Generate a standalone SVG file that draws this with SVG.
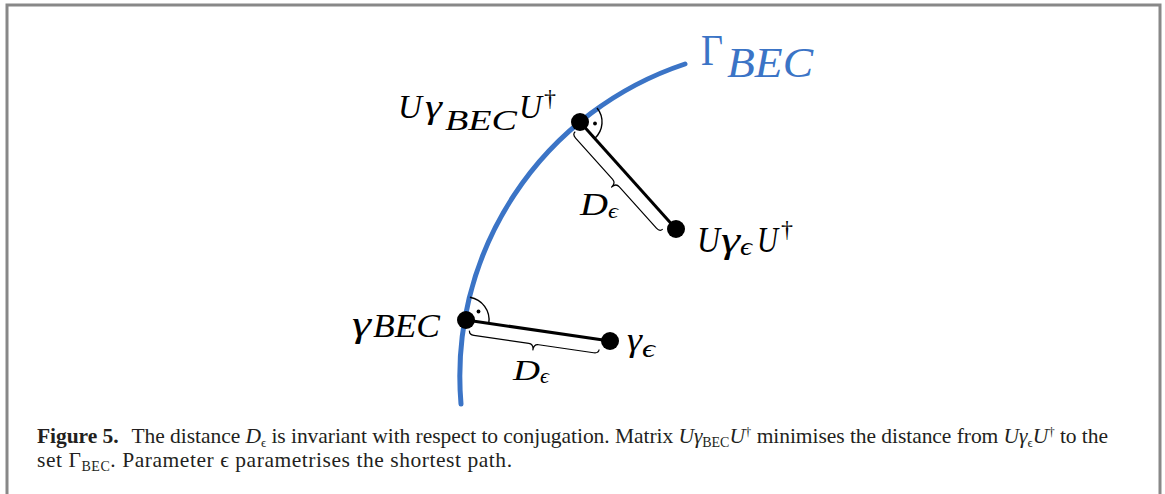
<svg xmlns="http://www.w3.org/2000/svg" width="1165" height="494" viewBox="0 0 1165 494">
<style>
.m{font-family:"Liberation Serif","DejaVu Serif",serif;font-style:italic;fill:#000}
.g{font-family:"Liberation Serif","DejaVu Serif",serif;font-style:italic;fill:#000}
.r{font-family:"Liberation Serif","DejaVu Serif",serif;font-style:normal;fill:#000}
.cap{font-family:"Liberation Serif","DejaVu Serif",serif;font-size:21.5px;fill:#231f20}
.dot{fill:#000}
.seg{stroke:#000;stroke-width:3;fill:none}
.ra{stroke:#000;stroke-width:1.4;fill:none}
.br{stroke:#000;stroke-width:1.2;fill:none;stroke-linejoin:round}
</style>
<rect width="1165" height="494" fill="#fff"/>
<path d="M7,494 V5 H1160 V494" fill="none" stroke="#888" stroke-width="3"/>

<g id="gamma-set">
<path d="M461,404 A329,329 0 0 1 685,64" fill="none" stroke="#3b74c6" stroke-width="5" stroke-linecap="round"/>
<text x="701" y="65" class="r" font-size="44" style="fill:#3b74c6" textLength="22" lengthAdjust="spacingAndGlyphs">Γ</text>
<text x="727" y="77" class="m" font-size="42" style="fill:#3b74c6" textLength="86" lengthAdjust="spacingAndGlyphs">BEC</text>
</g>

<g id="connectors">
<line class="seg" x1="580" y1="122" x2="676" y2="229"/>
<line class="seg" x1="466" y1="320" x2="610" y2="341"/>
<path class="ra" d="M597,108 A22,22 0 0 1 594.7,138.4"/>
<circle cx="595" cy="123.5" r="1.9" class="dot"/>
<path class="ra" d="M469.9,297.3 A23,23 0 0 1 488.8,323.3"/>
<circle cx="478.5" cy="311.5" r="1.9" class="dot"/>
<g transform="translate(580,122) rotate(48.1)">
<path class="br" d="M4,10 Q4,14 9,14 L64.5,14 Q69.5,14 69.5,20 Q69.5,14 74.5,14 L130,14 Q135,14 135,10"/>
</g>
<g transform="translate(466,320) rotate(8.3)">
<path class="br" d="M5,10 Q5,14 10,14 L65.5,14 Q70.5,14 70.5,20 Q70.5,14 75.5,14 L131,14 Q136,14 136,10"/>
</g>
<text x="580" y="215" class="m" font-size="31" textLength="28" lengthAdjust="spacingAndGlyphs">D</text>
<text x="608" y="218" class="g" font-size="22" textLength="10" lengthAdjust="spacingAndGlyphs">ϵ</text>
<text x="513" y="380" class="m" font-size="30" textLength="27" lengthAdjust="spacingAndGlyphs">D</text>
<text x="540" y="383" class="g" font-size="22" textLength="9" lengthAdjust="spacingAndGlyphs">ϵ</text>
</g>

<g id="node-UgBECU">
<circle cx="580" cy="122" r="9" class="dot"/>
<text x="398" y="118" class="m" font-size="34" textLength="24" lengthAdjust="spacingAndGlyphs">U</text>
<text x="425" y="118" class="g" font-size="34" textLength="17" lengthAdjust="spacingAndGlyphs">γ</text>
<text x="445" y="130" class="m" font-size="30" textLength="72" lengthAdjust="spacingAndGlyphs">BEC</text>
<text x="519" y="118" class="m" font-size="34" textLength="23" lengthAdjust="spacingAndGlyphs">U</text>
<text x="544" y="106" class="r" font-size="24" textLength="12" lengthAdjust="spacingAndGlyphs">†</text>
</g>

<g id="node-UgeU">
<circle cx="676" cy="229" r="9" class="dot"/>
<text x="697" y="252" class="m" font-size="35" textLength="23" lengthAdjust="spacingAndGlyphs">U</text>
<text x="721" y="252" class="g" font-size="35" textLength="19" lengthAdjust="spacingAndGlyphs">γ</text>
<text x="740" y="255" class="g" font-size="26" textLength="12" lengthAdjust="spacingAndGlyphs">ϵ</text>
<text x="757" y="252" class="m" font-size="35" textLength="21" lengthAdjust="spacingAndGlyphs">U</text>
<text x="781" y="237" class="r" font-size="24" textLength="12" lengthAdjust="spacingAndGlyphs">†</text>
</g>

<g id="node-gBEC">
<circle cx="466" cy="320" r="9" class="dot"/>
<text x="352" y="336" class="g" font-size="35" textLength="19" lengthAdjust="spacingAndGlyphs">γ</text>
<text x="373" y="337" class="m" font-size="34" textLength="67" lengthAdjust="spacingAndGlyphs">BEC</text>
</g>

<g id="node-ge">
<circle cx="610" cy="341" r="9" class="dot"/>
<text x="627" y="351" class="g" font-size="34" textLength="15" lengthAdjust="spacingAndGlyphs">γ</text>
<text x="642" y="357" class="g" font-size="26" textLength="13" lengthAdjust="spacingAndGlyphs">ϵ</text>
</g>

<g id="caption">
<text class="cap" x="37" y="443" textLength="1071" lengthAdjust="spacing"><tspan font-weight="bold">Figure 5.</tspan><tspan dx="13">The distance </tspan><tspan font-style="italic">D</tspan><tspan font-size="13" dy="4">ϵ</tspan><tspan dy="-4"> is invariant with respect to conjugation. Matrix </tspan><tspan font-style="italic">Uγ</tspan><tspan font-size="14" dy="4">BEC</tspan><tspan font-style="italic" dy="-4">U</tspan><tspan font-size="13" dy="-7">†</tspan><tspan dy="7"> minimises the distance from </tspan><tspan font-style="italic">Uγ</tspan><tspan font-size="13" dy="4">ϵ</tspan><tspan font-style="italic" dy="-4">U</tspan><tspan font-size="13" dy="-7">†</tspan><tspan dy="7"> to the</tspan></text>
<text class="cap" x="37" y="467" textLength="475" lengthAdjust="spacing">set Γ<tspan font-size="14" dy="4">BEC</tspan><tspan dy="-4">. Parameter ϵ parametrises the shortest path.</tspan></text>
</g>
</svg>
